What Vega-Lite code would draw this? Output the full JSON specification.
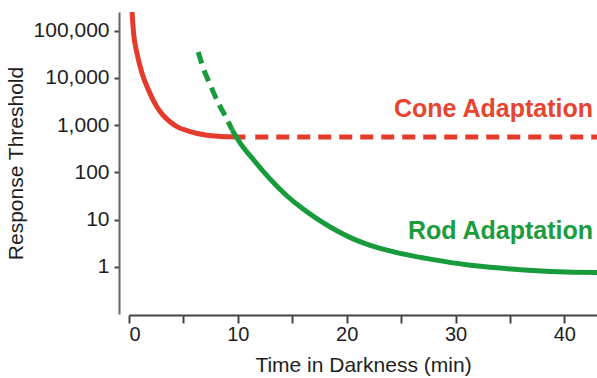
{
  "$schema": "https://vega.github.io/schema/vega-lite/v6.json",
  "width": 468,
  "height": 302,
  "autosize": {"type": "none"},
  "padding": {"left": 129, "top": 12, "right": 0, "bottom": 64},
  "background": "white",
  "config": {
    "view": {"stroke": null},
    "font": "Liberation Sans",
    "axis": {
      "grid": false,
      "domainColor": "#444444",
      "tickColor": "#444444",
      "domainWidth": 2,
      "tickWidth": 2,
      "labelColor": "#1e1e1e",
      "titleColor": "#1e1e1e",
      "labelFont": "Liberation Sans",
      "titleFont": "Liberation Sans",
      "labelFontSize": 20,
      "titleFontSize": 21,
      "titleFontWeight": "normal"
    }
  },
  "datasets": {
    "cone_solid": [
      {"t": 0.28, "threshold": 250000},
      {"t": 0.42, "threshold": 89800},
      {"t": 0.73, "threshold": 33900},
      {"t": 1.19, "threshold": 12800},
      {"t": 1.79, "threshold": 5560},
      {"t": 2.57, "threshold": 2430},
      {"t": 3.06, "threshold": 1700},
      {"t": 3.79, "threshold": 1170},
      {"t": 4.53, "threshold": 900},
      {"t": 5.33, "threshold": 770},
      {"t": 6.18, "threshold": 675},
      {"t": 7.16, "threshold": 615},
      {"t": 8.2, "threshold": 585},
      {"t": 9.3, "threshold": 570},
      {"t": 10.7, "threshold": 562}
    ],
    "cone_dashed": [
      {"t": 11.6, "threshold": 562},
      {"t": 43, "threshold": 562}
    ],
    "rod_dashed": [
      {"t": 6.36, "threshold": 35500},
      {"t": 6.82, "threshold": 16300},
      {"t": 7.47, "threshold": 7100},
      {"t": 8.2, "threshold": 2970},
      {"t": 8.93, "threshold": 1440},
      {"t": 9.48, "threshold": 795}
    ],
    "rod_solid": [
      {"t": 9.48, "threshold": 795},
      {"t": 10.22, "threshold": 418},
      {"t": 11.44, "threshold": 185},
      {"t": 12.97, "threshold": 72},
      {"t": 14.5, "threshold": 32},
      {"t": 16.03, "threshold": 16.5},
      {"t": 17.57, "threshold": 9.4},
      {"t": 19.1, "threshold": 5.8},
      {"t": 20.6, "threshold": 3.9},
      {"t": 22.16, "threshold": 2.85},
      {"t": 23.7, "threshold": 2.25},
      {"t": 24.9, "threshold": 1.93},
      {"t": 27.95, "threshold": 1.42},
      {"t": 31.0, "threshold": 1.11},
      {"t": 34.1, "threshold": 0.94},
      {"t": 37.1, "threshold": 0.835},
      {"t": 40.2, "threshold": 0.776},
      {"t": 43.0, "threshold": 0.76}
    ],
    "labels": [
      {"t": 42.64, "threshold": 1520, "label": "Cone Adaptation", "curve": "Cone"},
      {"t": 42.64, "threshold": 3.9, "label": "Rod Adaptation", "curve": "Rod"}
    ]
  },
  "encoding": {
    "x": {
      "field": "t",
      "type": "quantitative",
      "scale": {"domain": [0, 43], "nice": false, "zero": false},
      "axis": {
        "title": "Time in Darkness (min)",
        "values": [0, 5, 10, 15, 20, 25, 30, 35, 40],
        "labelExpr": "datum.value % 10 === 0 ? datum.label : ''",
        "tickSize": 8,
        "labelPadding": 1,
        "titlePadding": 10,
        "offset": 1
      }
    },
    "y": {
      "field": "threshold",
      "type": "quantitative",
      "scale": {"type": "log", "domain": [0.1, 250000], "nice": false},
      "axis": {
        "title": "Response Threshold",
        "values": [1, 10, 100, 1000, 10000, 100000],
        "format": ",",
        "tickSize": 5,
        "labelPadding": 5,
        "labelFontSize": 21,
        "titlePadding": 7,
        "offset": 10,
        "domainColor": "#666666"
      }
    }
  },
  "layer": [
    {
      "data": {"name": "cone_solid"},
      "mark": {"type": "line", "color": "#e53b2c", "strokeWidth": 5, "interpolate": "monotone", "clip": true}
    },
    {
      "data": {"name": "cone_dashed"},
      "mark": {"type": "line", "color": "#e53b2c", "strokeWidth": 5, "strokeDash": [13, 8], "clip": true}
    },
    {
      "data": {"name": "rod_solid"},
      "mark": {"type": "line", "color": "#179b3b", "strokeWidth": 5, "interpolate": "monotone", "clip": true}
    },
    {
      "data": {"name": "rod_dashed"},
      "mark": {"type": "line", "color": "#179b3b", "strokeWidth": 5, "strokeDash": [12, 7], "interpolate": "monotone", "clip": true}
    },
    {
      "data": {"name": "labels"},
      "mark": {"type": "text", "align": "right", "baseline": "alphabetic", "fontSize": 25, "fontWeight": "bold", "font": "Liberation Sans"},
      "encoding": {
        "text": {"field": "label", "type": "nominal"},
        "color": {
          "field": "curve",
          "type": "nominal",
          "scale": {"domain": ["Cone", "Rod"], "range": ["#e8452f", "#1c9c3e"]},
          "legend": null
        }
      }
    }
  ]
}
